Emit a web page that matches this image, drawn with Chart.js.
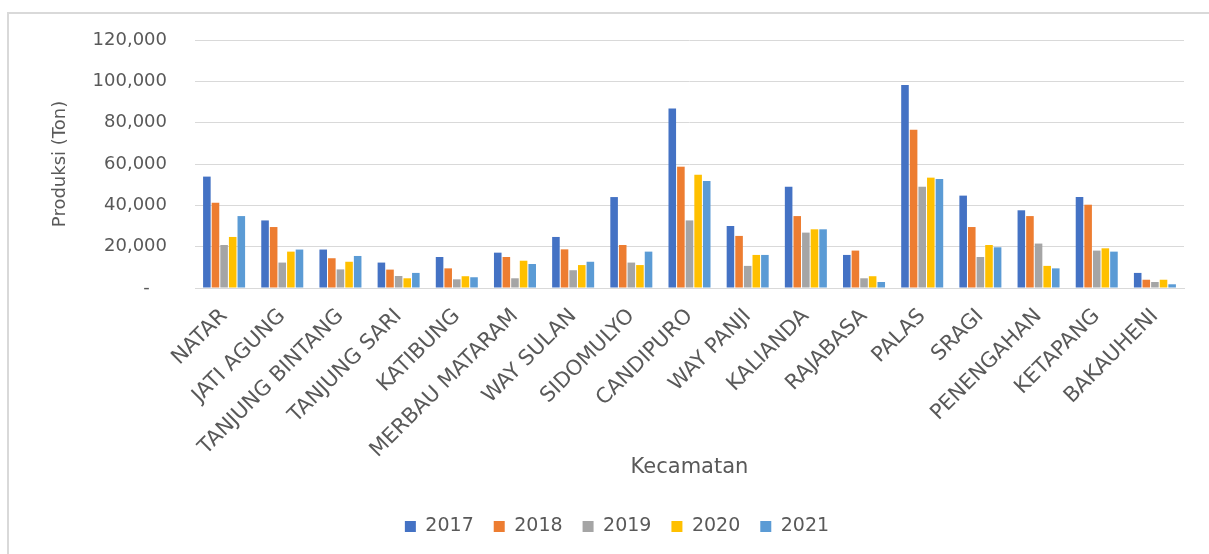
<!DOCTYPE html>
<html>
<head>
<meta charset="utf-8">
<script src="https://cdn.jsdelivr.net/npm/chart.js@4.4.0/dist/chart.umd.min.js"></script>
<style>
  html, body { margin: 0; padding: 0; background: #fff; overflow: hidden; }
  body { width: 1209px; height: 554px; position: relative; }
  #frame {
    position: absolute; left: 7px; top: 12px; width: 1216px; height: 542px;
    border-top: 2px solid #d9d9d9; border-left: 2px solid #d9d9d9;
  }
  #chart { display: block; }
</style>
</head>
<body>
<div id="frame"><canvas id="chart" width="1216" height="542"></canvas></div>
<script>
// Produksi per kecamatan, 2017-2021 (Ton)
const categories = ['NATAR', 'JATI AGUNG', 'TANJUNG BINTANG', 'TANJUNG SARI', 'KATIBUNG',
  'MERBAU MATARAM', 'WAY SULAN', 'SIDOMULYO', 'CANDIPURO', 'WAY PANJI', 'KALIANDA',
  'RAJABASA', 'PALAS', 'SRAGI', 'PENENGAHAN', 'KETAPANG', 'BAKAUHENI'];

const y2017 = [53900, 32700, 18600, 12300, 15000, 17100, 24700, 44000, 86800, 30000, 49000, 16000, 98200, 44700, 37600, 44000, 7300];
const y2018 = [41300, 29500, 14400, 8900, 9500, 15000, 18700, 20800, 58700, 25200, 34800, 18100, 76600, 29500, 34800, 40300, 4000];
const y2019 = [20800, 12300, 9000, 5800, 4200, 4700, 8600, 12300, 32700, 10700, 26800, 4700, 49000, 15000, 21500, 18100, 2900];
const y2020 = [24700, 17600, 12700, 4700, 5700, 13200, 11100, 11100, 54800, 16000, 28400, 5700, 53400, 20800, 10700, 19200, 4000];
const y2021 = [34800, 18600, 15500, 7300, 5200, 11600, 12700, 17600, 51800, 16000, 28400, 2900, 52800, 19700, 9500, 17600, 1800];

const yMax = 120000;
const yStep = 20000;

const FONT = 'DejaVu Sans';
const TEXT = '#595959';
const GRID = '#d9d9d9';

const series = [
  { label: '2017', data: y2017, color: '#4472C4' },
  { label: '2018', data: y2018, color: '#ED7D31' },
  { label: '2019', data: y2019, color: '#A5A5A5' },
  { label: '2020', data: y2020, color: '#FFC000' },
  { label: '2021', data: y2021, color: '#5B9BD5' }
];

new Chart(document.getElementById('chart'), {
  type: 'bar',
  data: {
    labels: categories,
    datasets: series.map(s => ({
      label: s.label,
      data: s.data,
      backgroundColor: s.color,
      borderWidth: 0,
      categoryPercentage: 0.74,
      barPercentage: 0.88
    }))
  },
  options: {
    responsive: false,
    animation: false,
    layout: { padding: { top: 26, bottom: 10, left: 0, right: 0 } },
    plugins: {
      tooltip: { enabled: false },
      legend: {
        position: 'bottom',
        labels: {
          boxWidth: 11, boxHeight: 11, padding: 20,
          color: TEXT, font: { family: FONT, size: 19 }
        }
      }
    },
    scales: {
      x: {
        grid: { display: false },
        border: { display: true, color: GRID, width: 1 },
        ticks: {
          autoSkip: false, minRotation: 45, maxRotation: 45, padding: 8,
          color: TEXT, font: { family: FONT, size: 21 }
        },
        title: {
          display: true, text: 'Kecamatan', color: TEXT,
          font: { family: FONT, size: 21 }, padding: { top: 0, bottom: 17 }
        },
        afterFit: scale => { scale.height = 209; }
      },
      y: {
        min: 0, max: yMax,
        // invisible tick marks keep the labels clear of the plot
        grid: { color: GRID, lineWidth: 1, drawTicks: true, tickLength: 28, tickColor: 'rgba(0,0,0,0)' },
        border: { display: false },
        ticks: {
          stepSize: yStep, padding: 0, color: TEXT,
          font: { family: FONT, size: 18 },
          callback: v => v === 0 ? '-   ' : v.toLocaleString('en-US')
        },
        title: {
          display: true, text: 'Produksi (Ton)', color: TEXT,
          font: { family: FONT, size: 18 }, padding: { top: 41, bottom: 0 }
        },
        afterFit: scale => { scale.width = 186; }
      },
      // empty right margin so the legend centres on the whole frame
      yRight: {
        position: 'right',
        display: true,
        grid: { display: false },
        border: { display: false },
        ticks: { display: false },
        afterFit: scale => { scale.width = 41; }
      }
    }
  }
});
</script>
</body>
</html>
